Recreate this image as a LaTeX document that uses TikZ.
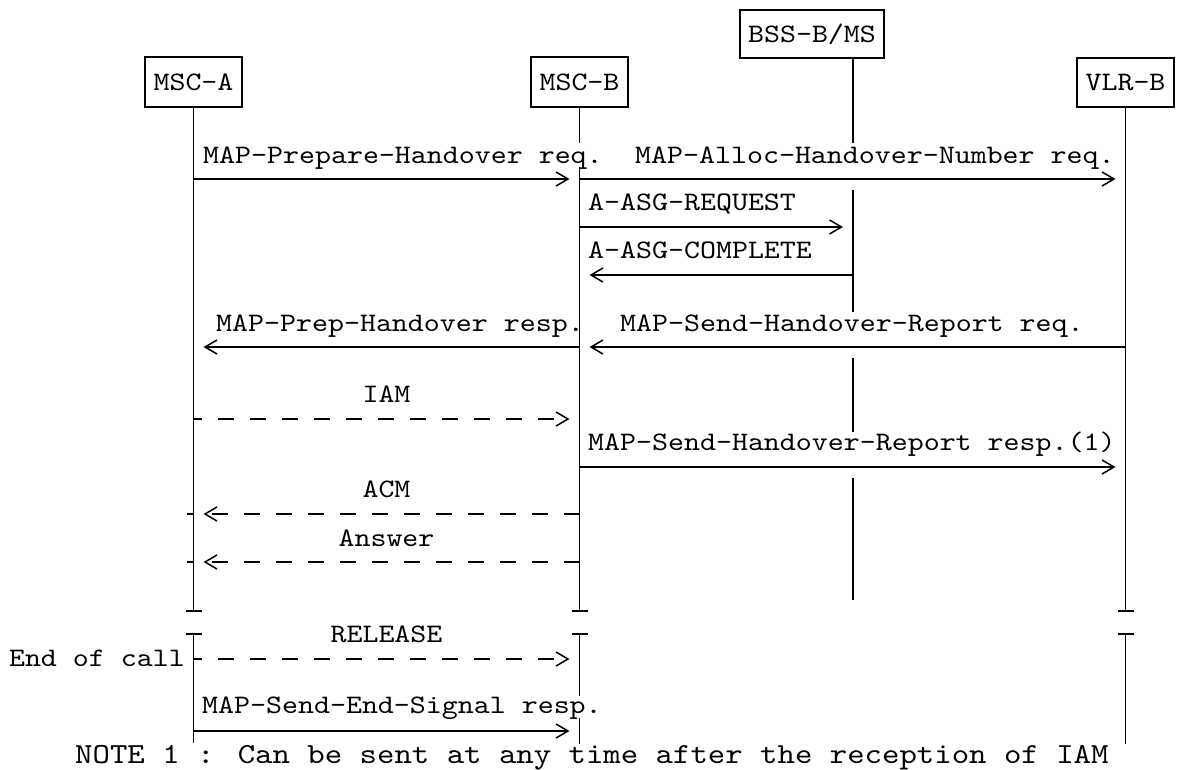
\documentclass[tikz,border=0pt]{standalone}
\usepackage{fontspec}
\newfontfamily\monofam{lmmono10-regular.otf}[FakeStretch=1.14]
\usetikzlibrary{arrows.meta}
\tikzset{
  ent/.style={draw, line width=1.5pt, minimum width=97pt, minimum height=50pt,
    inner sep=0pt, text height=16.5pt, text depth=0pt},
  life/.style={line width=1.5pt},
  msg/.style={line width=1.5pt, -{Straight Barb[length=12pt,width=14pt]}, shorten >=10pt},
  dmsg/.style={msg, dash pattern=on 16pt off 16pt},
  lbl/.style={anchor=base west, inner sep=0pt},
  clbl/.style={anchor=base, inner sep=0pt},
}
\begin{document}
\begin{tikzpicture}[x=1pt,y=-1pt, every node/.append style={font=\monofam\fontsize{26.7}{32}\selectfont}]
\useasboundingbox (0,0) rectangle (1177,769);
% entities
\node[ent] (msca) at (193.5,82) {MSC-A};
\node[ent] (mscb) at (579.5,82) {MSC-B};
\node[ent, minimum width=144pt, minimum height=48pt] (bss) at (812,34) {BSS-B/MS};
\node[ent, minimum height=49pt] (vlr) at (1125.5,82.5) {VLR-B};
\coordinate (bssl) at (bss.south -| 853,0);
% end points of the lifelines
\coordinate (aend) at (msca.south |- 0,611);
\coordinate (bend) at (mscb.south |- 0,611);
\coordinate (vend) at (vlr.south |- 0,611);
\coordinate (abeg) at (msca.south |- 0,634);
\coordinate (bbeg) at (mscb.south |- 0,634);
\coordinate (vbeg) at (vlr.south |- 0,634);
% lifelines, first part
\draw[life] (msca.south) -- (aend) ++(-8,0) -- ++(16,0);
\draw[life] (mscb.south) -- (mscb.south |- 0,143);
\draw[life] (mscb.south |- 0,167) -- (bend) ++(-8,0) -- ++(16,0);
\draw[life] (bssl) -- (bssl |- 0,143);
\draw[life] (bssl |- 0,190) -- (bssl |- 0,312);
\draw[life] (bssl |- 0,358) -- (bssl |- 0,432);
\draw[life] (bssl |- 0,478) -- (bssl |- 0,600);
\draw[life] (vlr.south) -- (vend) ++(-8,0) -- ++(16,0);
% lifelines, second part
\draw[life] (abeg) -- (msca.south |- 0,743) (abeg) ++(-8,0) -- ++(16,0);
\draw[life] (bbeg) -- (mscb.south |- 0,696) (bbeg) ++(-8,0) -- ++(16,0);
\draw[life] (mscb.south |- 0,718) -- (mscb.south |- 0,744);
\draw[life] (vbeg) -- (vlr.south |- 0,744) (vbeg) ++(-8,0) -- ++(16,0);
% messages
\draw[msg] (msca.south |- 0,179) -- (mscb.south |- 0,179);
\node[lbl] (l1) at (203,163) {MAP-Prepare-Handover req.};
\draw[msg] (mscb.south |- 0,179) -- (vlr.south |- 0,179);
\node[lbl] (l2) at (635,163) {MAP-Alloc-Handover-Number req.};
\draw[msg] (mscb.south |- 0,227) -- (bssl |- 0,227);
\node[lbl] (l3) at (588,210) {A-ASG-REQUEST};
\draw[msg] (bssl |- 0,275) -- (mscb.south |- 0,275);
\node[lbl] (l4) at (588,258) {A-ASG-COMPLETE};
\draw[msg] (mscb.south |- 0,347) -- (msca.south |- 0,347);
\node[lbl] (l5) at (216,331) {MAP-Prep-Handover resp.};
\draw[msg] (vlr.south |- 0,347) -- (mscb.south |- 0,347);
\node[lbl] (l6) at (620,331) {MAP-Send-Handover-Report req.};
\draw[dmsg, dash phase=8pt] (msca.south |- 0,419) -- (mscb.south |- 0,419);
\node[clbl] (l7) at (386.5,402) {IAM};
\draw[msg] (mscb.south |- 0,467) -- (vlr.south |- 0,467);
\node[lbl] (l8) at (588,450) {MAP-Send-Handover-Report resp.(1)};
\draw[dmsg] (mscb.south |- 0,514) -- (msca.south |- 0,514);
\draw[life] (msca.south |- 0,514) -- ++(-7,0);
\node[clbl] (l9) at (386.5,497) {ACM};
\draw[dmsg] (mscb.south |- 0,562) -- (msca.south |- 0,562);
\draw[life] (msca.south |- 0,562) -- ++(-7,0);
\node[clbl] (l10) at (386.5,546) {Answer};
\draw[dmsg, dash phase=8pt] (msca.south |- 0,659) -- (mscb.south |- 0,659);
\node[clbl] (l11) at (386.5,642) {RELEASE};
\node[anchor=base east, inner sep=0pt] (eoc) at (185,666) {End of call};
\draw[msg] (msca.south |- 0,731) -- (mscb.south |- 0,731);
\node[lbl] (l12) at (202,713) {MAP-Send-End-Signal resp.};
\node[lbl, font=\monofam\fontsize{29.1}{34}\selectfont] (note) at (75,763) {NOTE 1 : Can be sent at any time after the reception of IAM};
\end{tikzpicture}
\end{document}
